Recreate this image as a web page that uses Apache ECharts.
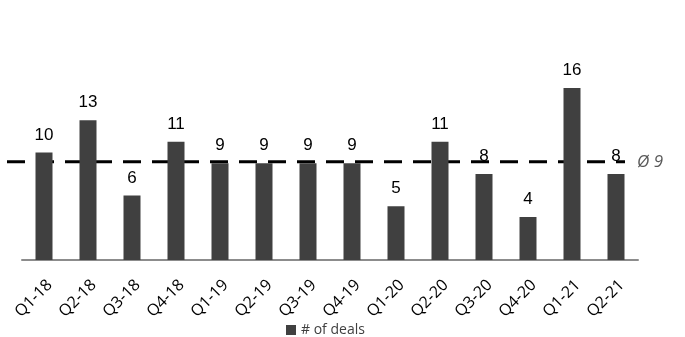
<!DOCTYPE html>
<html>
<head>
<meta charset="utf-8">
<script src="https://cdn.jsdelivr.net/npm/echarts@6/dist/echarts.min.js"></script>
<style>
  html, body { margin: 0; padding: 0; background: #fff; }
  #chart { width: 685px; height: 337px; }
</style>
</head>
<body>
<div id="chart"></div>
<script>
// Quarterly deal counts
const quarters = ['Q1-18','Q2-18','Q3-18','Q4-18','Q1-19','Q2-19','Q3-19','Q4-19',
                  'Q1-20','Q2-20','Q3-20','Q4-20','Q1-21','Q2-21'];
const deals = [10, 13, 6, 11, 9, 9, 9, 9, 5, 11, 8, 4, 16, 8];

const seriesName = '# of deals';
const avgPrefix = 'Ø ';

// Mean number of deals per quarter
const avgDeals = deals.reduce((a, b) => a + b, 0) / deals.length;

const FONT = 'Open Sans';
const VALUE_FONT = 'Liberation Sans';
const Y_MAX = 20;

const chart = echarts.init(document.getElementById('chart'), null, { renderer: 'canvas' });

chart.setOption({
  animation: false,
  textStyle: { fontFamily: FONT },
  grid: [
    { left: 22, right: 47, top: 45, bottom: 77, containLabel: false },
    // companion grid for the average line, which runs slightly wider on the left
    { left: 7, right: 60, top: 45, bottom: 77, containLabel: false }
  ],
  legend: {
    bottom: 0,
    left: 286,
    padding: 0,
    itemWidth: 10,
    itemHeight: 10,
    itemGap: 5,
    data: [{ name: seriesName, icon: 'rect' }],
    textStyle: { fontFamily: FONT, fontSize: 14, color: '#404040' }
  },
  xAxis: [
    {
      type: 'category',
      gridIndex: 0,
      data: quarters,
      axisLine: { show: true, lineStyle: { color: '#8c8c8c', width: 2 } },
      axisTick: { show: false },
      axisLabel: {
        interval: 0,
        rotate: 45,
        margin: 17,
        verticalAlign: 'top',
        color: '#000',
        fontFamily: FONT,
        fontSize: 16
      }
    },
    { type: 'value', gridIndex: 1, min: 0, max: 1, show: false }
  ],
  yAxis: [
    { type: 'value', gridIndex: 0, min: 0, max: Y_MAX, show: false, splitLine: { show: false } },
    { type: 'value', gridIndex: 1, min: 0, max: Y_MAX, show: false, splitLine: { show: false } }
  ],
  series: [
    {
      name: seriesName,
      type: 'bar',
      xAxisIndex: 0,
      yAxisIndex: 0,
      data: deals,
      barWidth: 17,
      itemStyle: { color: '#404040' },
      label: {
        show: true,
        position: 'top',
        distance: 9,
        color: '#000',
        fontFamily: VALUE_FONT,
        fontSize: 17
      }
    },
    {
      name: 'avg',
      type: 'line',
      xAxisIndex: 1,
      yAxisIndex: 1,
      data: [[0, avgDeals], [1, avgDeals]],
      symbol: 'none',
      silent: true,
      z: 1,
      lineStyle: { color: '#000', width: 3, type: [18, 11] },
      endLabel: {
        show: true,
        distance: 12,
        formatter: () => avgPrefix + Math.round(avgDeals),
        fontFamily: FONT,
        fontStyle: 'italic',
        fontSize: 17,
        color: '#595959'
      }
    }
  ]
});
</script>
</body>
</html>
